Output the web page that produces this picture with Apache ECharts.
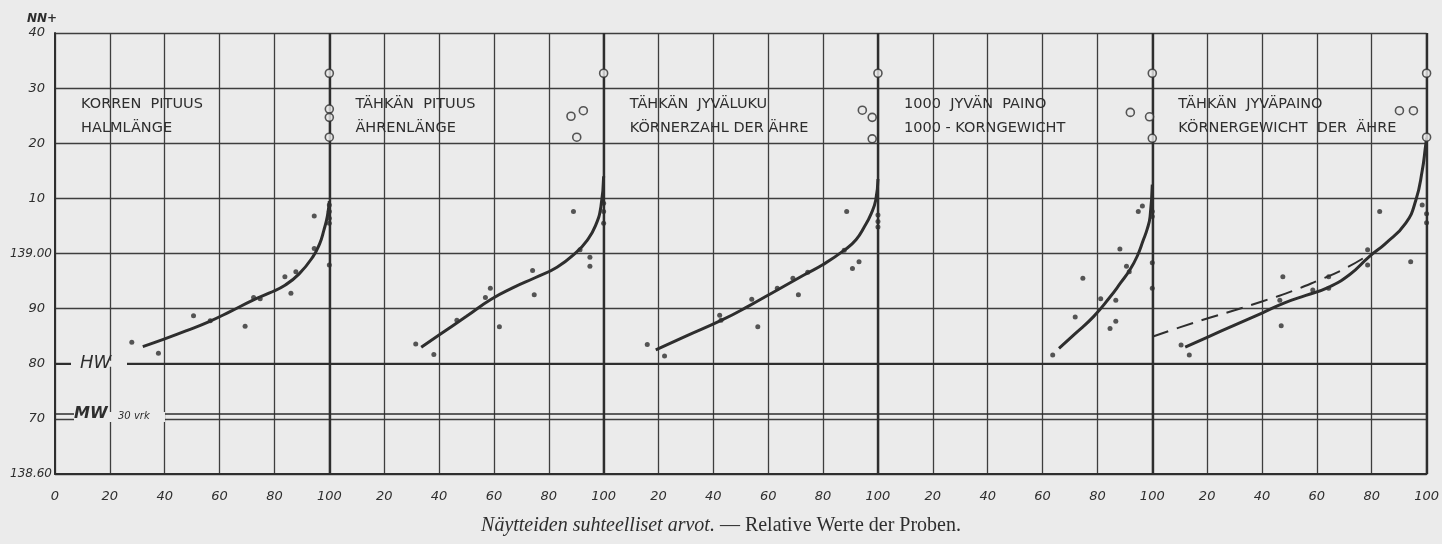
<!DOCTYPE html>
<html>
<head>
<meta charset="utf-8">
<script src="https://cdn.jsdelivr.net/npm/echarts@6/dist/echarts.min.js"></script>
<style>
html,body{margin:0;padding:0;background:#ebebeb;}
#chart{width:1442px;height:544px;}
</style>
</head>
<body>
<div id="chart"></div>
<script>
// ---------------- data ----------------
const panelOffsets = [0, 100, 200, 300, 400];
const panelTitles = [
  ['KORREN  PITUUS', 'HALMLÄNGE'],
  ['TÄHKÄN  PITUUS', 'ÄHRENLÄNGE'],
  ['TÄHKÄN  JYVÄLUKU', 'KÖRNERZAHL DER ÄHRE'],
  ['1000  JYVÄN  PAINO', '1000 - KORNGEWICHT'],
  ['TÄHKÄN  JYVÄPAINO', 'KÖRNERGEWICHT  DER  ÄHRE']
];
const xTickLabels = ['0','20','40','60','80','100','20','40','60','80','100','20','40','60','80','100','20','40','60','80','100','20','40','60','80','100'];
const yTickLabels = ['138.60','70','80','90','139.00','10','20','30','40'];
const hwLevel = 138.80;
const mwLevel = 138.707;

// solid curves, local x (0-100 within panel), y in m NN+
const curve1 = [[32,138.831],[40,138.845],[48,138.860],[56,138.876],[64,138.895],[72,138.915],[78,138.928],[84,138.943],[89,138.963],[94,138.994],[96.5,139.018],[98,139.042],[99.3,139.068],[100,139.095]];
const curve2 = [[33.5,138.830],[40,138.852],[50,138.886],[59,138.917],[67,138.938],[75,138.956],[83,138.975],[90,139.002],[94,139.024],[97,139.050],[99,139.085],[100,139.140]];
const curve3 = [[19,138.825],[30,138.850],[43,138.879],[53,138.905],[63,138.933],[73,138.961],[80,138.980],[88,139.007],[92,139.025],[95,139.048],[97.5,139.072],[99.2,139.097],[100,139.135]];
const curve4 = [[66,138.828],[72,138.855],[78.5,138.885],[84.6,138.921],[88.5,138.947],[91.8,138.970],[94.5,138.995],[96.7,139.024],[98.2,139.045],[99.2,139.067],[100,139.125]];
const curve5 = [[12,138.830],[20,138.848],[30,138.870],[40,138.892],[48,138.910],[56,138.924],[64,138.938],[72,138.962],[79,138.994],[85,139.018],[92.4,139.055],[96.1,139.097],[98.4,139.150],[99.6,139.194],[100,139.21]];
const dashed5 = [[0,138.849],[10,138.866],[20,138.882],[30,138.897],[40,138.913],[50,138.930],[60,138.950],[70,138.972],[79,138.998]];

// filled dots
const dots1 = [[28,138.839],[37.7,138.819],[50.5,138.887],[56.6,138.878],[69.3,138.868],[72.4,138.920],[74.8,138.918],[83.8,138.958],[86.0,138.928],[87.8,138.967],[94.5,139.068],[94.5,139.009],[100,138.979],[100,139.088],[100,139.076],[100,139.064],[100,139.055]];
const dots2 = [[31.5,138.836],[38.1,138.817],[46.5,138.879],[56.9,138.920],[58.7,138.937],[62.0,138.867],[74.1,138.969],[74.7,138.925],[89.0,139.076],[91.4,139.007],[95.0,138.993],[95.0,138.977],[100,139.091],[100,139.076],[100,139.055]];
const dots3 = [[15.9,138.835],[22.2,138.814],[42.3,138.888],[42.8,138.879],[54.0,138.917],[56.2,138.867],[63.3,138.937],[69.0,138.955],[71.0,138.925],[74.4,138.966],[87.7,139.006],[88.6,139.076],[90.7,138.973],[93.1,138.985],[100,139.070],[100,139.058],[100,139.048]];
const dots4 = [[63.7,138.816],[71.9,138.885],[74.7,138.955],[81.2,138.918],[84.6,138.864],[86.7,138.915],[86.7,138.877],[88.2,139.008],[90.6,138.977],[91.6,138.967],[94.9,139.076],[96.4,139.086],[100,139.076],[100,139.067],[100,138.983],[100,138.937]];
const dots5 = [[10.5,138.834],[13.5,138.816],[47.0,138.869],[47.6,138.958],[46.5,138.915],[58.5,138.934],[64.3,138.937],[64.3,138.958],[78.5,138.979],[78.5,139.007],[82.9,139.076],[94.2,138.985],[98.4,139.088],[100,139.072],[100,139.056]];

// open circles
const rings1 = [[100,139.327],[100,139.262],[100,139.247],[100,139.211]];
const rings2 = [[88.1,139.249],[92.6,139.259],[90.2,139.211],[100,139.327]];
const rings3 = [[94.3,139.260],[97.9,139.247],[97.9,139.208],[100,139.327]];
const rings4 = [[92.0,139.256],[99.0,139.248],[100,139.209],[100,139.327]];
const rings5 = [[90.1,139.259],[95.2,139.259],[100,139.211],[100,139.327]];

// ---------------- chart ----------------
const INK = '#2e2e2e';
const GRID = '#3e3e3e';
const BG = '#ebebeb';
const curves = [curve1, curve2, curve3, curve4, curve5];
const dots = [dots1, dots2, dots3, dots4, dots5];
const rings = [rings1, rings2, rings3, rings4, rings5];
const shift = (arr, i) => arr.map(p => [p[0] + panelOffsets[i], p[1]]);

const series = [];
curves.forEach((c, i) => {
  series.push({
    type: 'line', data: shift(c, i), smooth: 0.5,
    showSymbol: false, symbol: 'none', silent: true, z: 5,
    lineStyle: { color: INK, width: 3 }
  });
});
series.push({
  type: 'line', data: shift(dashed5, 4), smooth: 0.5, showSymbol: false, symbol: 'none', silent: true, z: 5,
  lineStyle: { color: INK, width: 2, type: [17, 9] }
});
series.push({
  type: 'scatter', symbolSize: 5, silent: true, z: 6,
  itemStyle: { color: INK },
  data: dots.flatMap((d, i) => shift(d, i))
});
series.push({
  type: 'scatter', symbol: 'circle', symbolSize: 8, silent: true, z: 7,
  itemStyle: { color: BG, borderColor: INK, borderWidth: 1.6 },
  data: rings.flatMap((d, i) => shift(d, i))
});
// reference lines: panel boundaries, HW, MW
series.push({
  type: 'scatter', data: [], silent: true, z: 4,
  markLine: {
    silent: true, symbol: 'none', label: { show: false },
    lineStyle: { color: INK, type: 'solid', width: 2.4 },
    data: [
      { xAxis: 100 }, { xAxis: 200 }, { xAxis: 300 }, { xAxis: 400 }, { xAxis: 500 },
      { yAxis: hwLevel, lineStyle: { width: 1.8 } },
      { yAxis: mwLevel, lineStyle: { width: 1.6 } }
    ]
  }
});

const chart = echarts.init(document.getElementById('chart'), null, { renderer: 'canvas' });
chart.setOption({
  backgroundColor: BG,
  animation: false,
  title: {
    text: '{i|Näytteiden suhteelliset arvot.} {r|— Relative Werte der Proben.}',
    left: 'center', bottom: 3,
    textStyle: {
      fontWeight: 'normal',
      rich: {
        i: { fontFamily: 'Liberation Serif', fontStyle: 'italic', fontWeight: 'normal', fontSize: 20, color: INK },
        r: { fontFamily: 'Liberation Serif', fontWeight: 'normal', fontSize: 20, color: INK }
      }
    }
  },
  grid: { left: 55, right: 11, top: 33, bottom: 70, containLabel: false },
  xAxis: {
    type: 'value', min: 0, max: 500, interval: 20,
    axisLine: { show: true, lineStyle: { color: INK, width: 2 } },
    axisTick: { show: false },
    splitLine: { show: true, lineStyle: { color: GRID, width: 1.3 } },
    axisLabel: {
      margin: 16, color: INK, fontSize: 13, fontStyle: 'italic', fontFamily: 'DejaVu Sans',
      formatter: v => xTickLabels[Math.round(v / 20)]
    }
  },
  yAxis: {
    type: 'value', min: 138.6, max: 139.4, interval: 0.1,
    axisLine: { show: true, lineStyle: { color: INK, width: 2 } },
    axisTick: { show: false },
    splitLine: { show: true, lineStyle: { color: GRID, width: 1.3 } },
    axisLabel: {
      margin: 3, color: INK, fontSize: 13, fontStyle: 'italic', fontFamily: 'DejaVu Sans',
      formatter: v => {
        const s = yTickLabels[Math.round((v - 138.6) * 10)];
        return s.length > 3 ? '{l|' + s + '}' : '{s|' + s + '}';
      },
      rich: {
        l: { fontSize: 12, fontStyle: 'italic', fontFamily: 'DejaVu Sans', color: INK, padding: [0, 0, 0, 0] },
        s: { fontSize: 13, fontStyle: 'italic', fontFamily: 'DejaVu Sans', color: INK, padding: [0, 7, 0, 0] }
      }
    }
  },
  series: series
});

// text annotations placed through the chart's own coordinate conversion
const px = (x, y) => chart.convertToPixel({ gridIndex: 0 }, [x, y]);
const graphics = [];
const p0 = px(0, 139.4);
graphics.push({ type: 'text', z: 100, style: { text: 'NN+', x: 27, y: p0[1] - 14, font: 'italic bold 12px DejaVu Sans', fill: INK, verticalAlign: 'middle' } });
panelTitles.forEach((t, i) => {
  const a = px(panelOffsets[i] + 9.5, 139.27);
  const b = px(panelOffsets[i] + 9.5, 139.228);
  graphics.push({ type: 'text', z: 100, style: { text: t[0], x: a[0], y: a[1], font: '14.5px DejaVu Sans', fill: INK, verticalAlign: 'middle' } });
  graphics.push({ type: 'text', z: 100, style: { text: t[1], x: b[0], y: b[1], font: '14.5px DejaVu Sans', fill: INK, verticalAlign: 'middle' } });
});
const hw = px(0, hwLevel);
const mw = px(0, mwLevel);
const g70 = px(0, 138.7);
graphics.push({ type: 'rect', z: 99, shape: { x: hw[0] + 16, y: hw[1] - 3, width: 56, height: 6 }, style: { fill: BG } });
graphics.push({ type: 'text', z: 100, style: { text: 'HW', x: hw[0] + 25, y: hw[1], font: 'italic 18px DejaVu Sans', fill: INK, verticalAlign: 'middle' } });
graphics.push({ type: 'rect', z: 99, shape: { x: mw[0] + 19, y: mw[1] - 3, width: 91, height: g70[1] - mw[1] + 6 }, style: { fill: BG } });
graphics.push({ type: 'text', z: 100, style: { text: 'MW', x: mw[0] + 19, y: mw[1] - 1, font: 'italic bold 16px DejaVu Sans', fill: INK, verticalAlign: 'middle' } });
graphics.push({ type: 'text', z: 100, style: { text: '30 vrk', x: mw[0] + 63, y: mw[1] + 1, font: 'italic 10px DejaVu Sans', fill: INK, verticalAlign: 'middle' } });
chart.setOption({ graphic: graphics });
</script>
</body>
</html>
